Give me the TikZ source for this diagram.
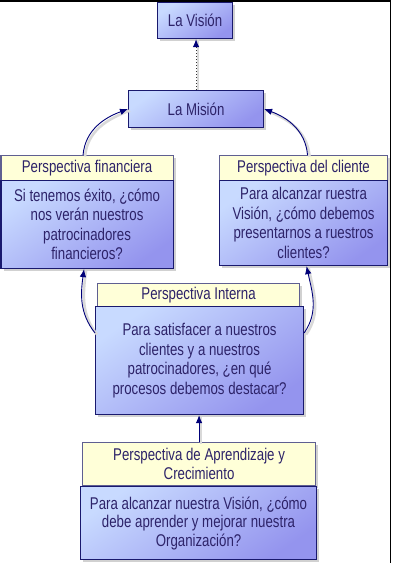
\documentclass[tikz,border=0pt]{standalone}
\usepackage{fontspec}
\setmainfont{Liberation Sans}[FakeStretch=0.78]
\usetikzlibrary{arrows.meta,shadows,calc}
\definecolor{bodylight}{RGB}{200,218,255}
\definecolor{bodydark}{RGB}{148,148,238}
\definecolor{headfill}{RGB}{255,255,216}
\definecolor{bodyline}{RGB}{25,25,110}
\definecolor{headline}{RGB}{95,95,145}
\definecolor{txt}{RGB}{45,35,105}
\definecolor{arrowc}{RGB}{0,0,120}
\begin{document}
\begin{tikzpicture}[x=1pt,y=-1pt,
  every node/.style={font=\fontsize{17}{19.5}\selectfont, text=txt, inner sep=0pt, anchor=north west, align=center},
  boxshadow/.style={drop shadow={shadow xshift=2.5pt, shadow yshift=-2.5pt, fill=black!18, opacity=1}},
  bodybox/.style={draw=bodyline, line width=1.1pt, top color=bodylight, bottom color=bodydark, shading angle=35, boxshadow},
  headbox/.style={draw=headline, line width=1.1pt, fill=headfill, boxshadow},
  conn/.style={draw=arrowc, line width=0.9pt, -{Latex[length=8pt,width=6.5pt]},
    preaction={draw=black!15, line width=2.6pt, transform canvas={shift={(2pt,-1.5pt)}}, -}},
  dotconn/.style={draw=black!80, line width=1pt, dotted, -{Latex[length=8pt,width=6.5pt,color=arrowc,fill=arrowc]},
    preaction={draw=black!15, solid, line width=2pt, transform canvas={shift={(2pt,0pt)}}, -}}
]
\useasboundingbox (0,0) rectangle (392,563);
\draw[black, line width=1.5pt] (0,0.75) -- (390.5,0.75) -- (390.5,563);

% top boxes
\node[bodybox, minimum width=75pt, minimum height=36pt] (vis) at (157,2) {La Visión};
\node[bodybox, minimum width=135pt, minimum height=37pt] (mis) at (128,90) {La Misión};

% financiera
\node[headbox, minimum width=172pt, minimum height=25pt] (finh) at (0.5,155) {Perspectiva financiera};
\node[bodybox, minimum width=172pt, minimum height=88pt] (finb) at (0.5,180) {Si tenemos éxito, ¿cómo\\nos verán nuestros\\patrocinadores\\financieros?};

% cliente
\node[headbox, minimum width=168pt, minimum height=25pt] (clih) at (219,155) {Perspectiva del cliente};
\node[bodybox, minimum width=168pt, minimum height=85pt] (clib) at (219,180) {Para alcanzar ruestra\\Visión, ¿cómo debemos\\presentarnos a ruestros\\clientes?};

% interna
\node[headbox, minimum width=202pt, minimum height=23pt] (inth) at (97,283) {Perspectiva Interna};
\node[bodybox, minimum width=208pt, minimum height=108pt] (intb) at (95,306) {Para satisfacer a nuestros\\clientes y a nuestros\\patrocinadores, ¿en qué\\procesos debemos destacar?};

% aprendizaje
\node[headbox, minimum width=233pt, minimum height=43pt] (aprh) at (82,442) {Perspectiva de Aprendizaje y\\Crecimiento};
\node[bodybox, minimum width=236pt, minimum height=73pt, font=\fontsize{17}{18.5}\selectfont] (aprb) at (80,486) {Para alcanzar nuestra Visión, ¿cómo\\debe aprender y mejorar nuestra\\Organización?};

% connectors
\draw[dotconn] (mis.north) -- (mis.north |- vis.south);
\draw[conn] ([xshift=-4pt]finh.north) to[out=85,in=200] (mis.west);
\draw[conn] ([xshift=4pt]clih.north) to[out=95,in=-20] (mis.east);
\draw[conn] ([yshift=-27pt]intb.north west) to[out=128,in=262] ([xshift=-3pt]finb.south);
\draw[conn] ([yshift=-27pt]intb.north east) to[out=55,in=-78] ([xshift=3pt]clib.south);
\draw[conn] (aprh.north) -- (aprh.north |- intb.south);
\end{tikzpicture}
\end{document}
